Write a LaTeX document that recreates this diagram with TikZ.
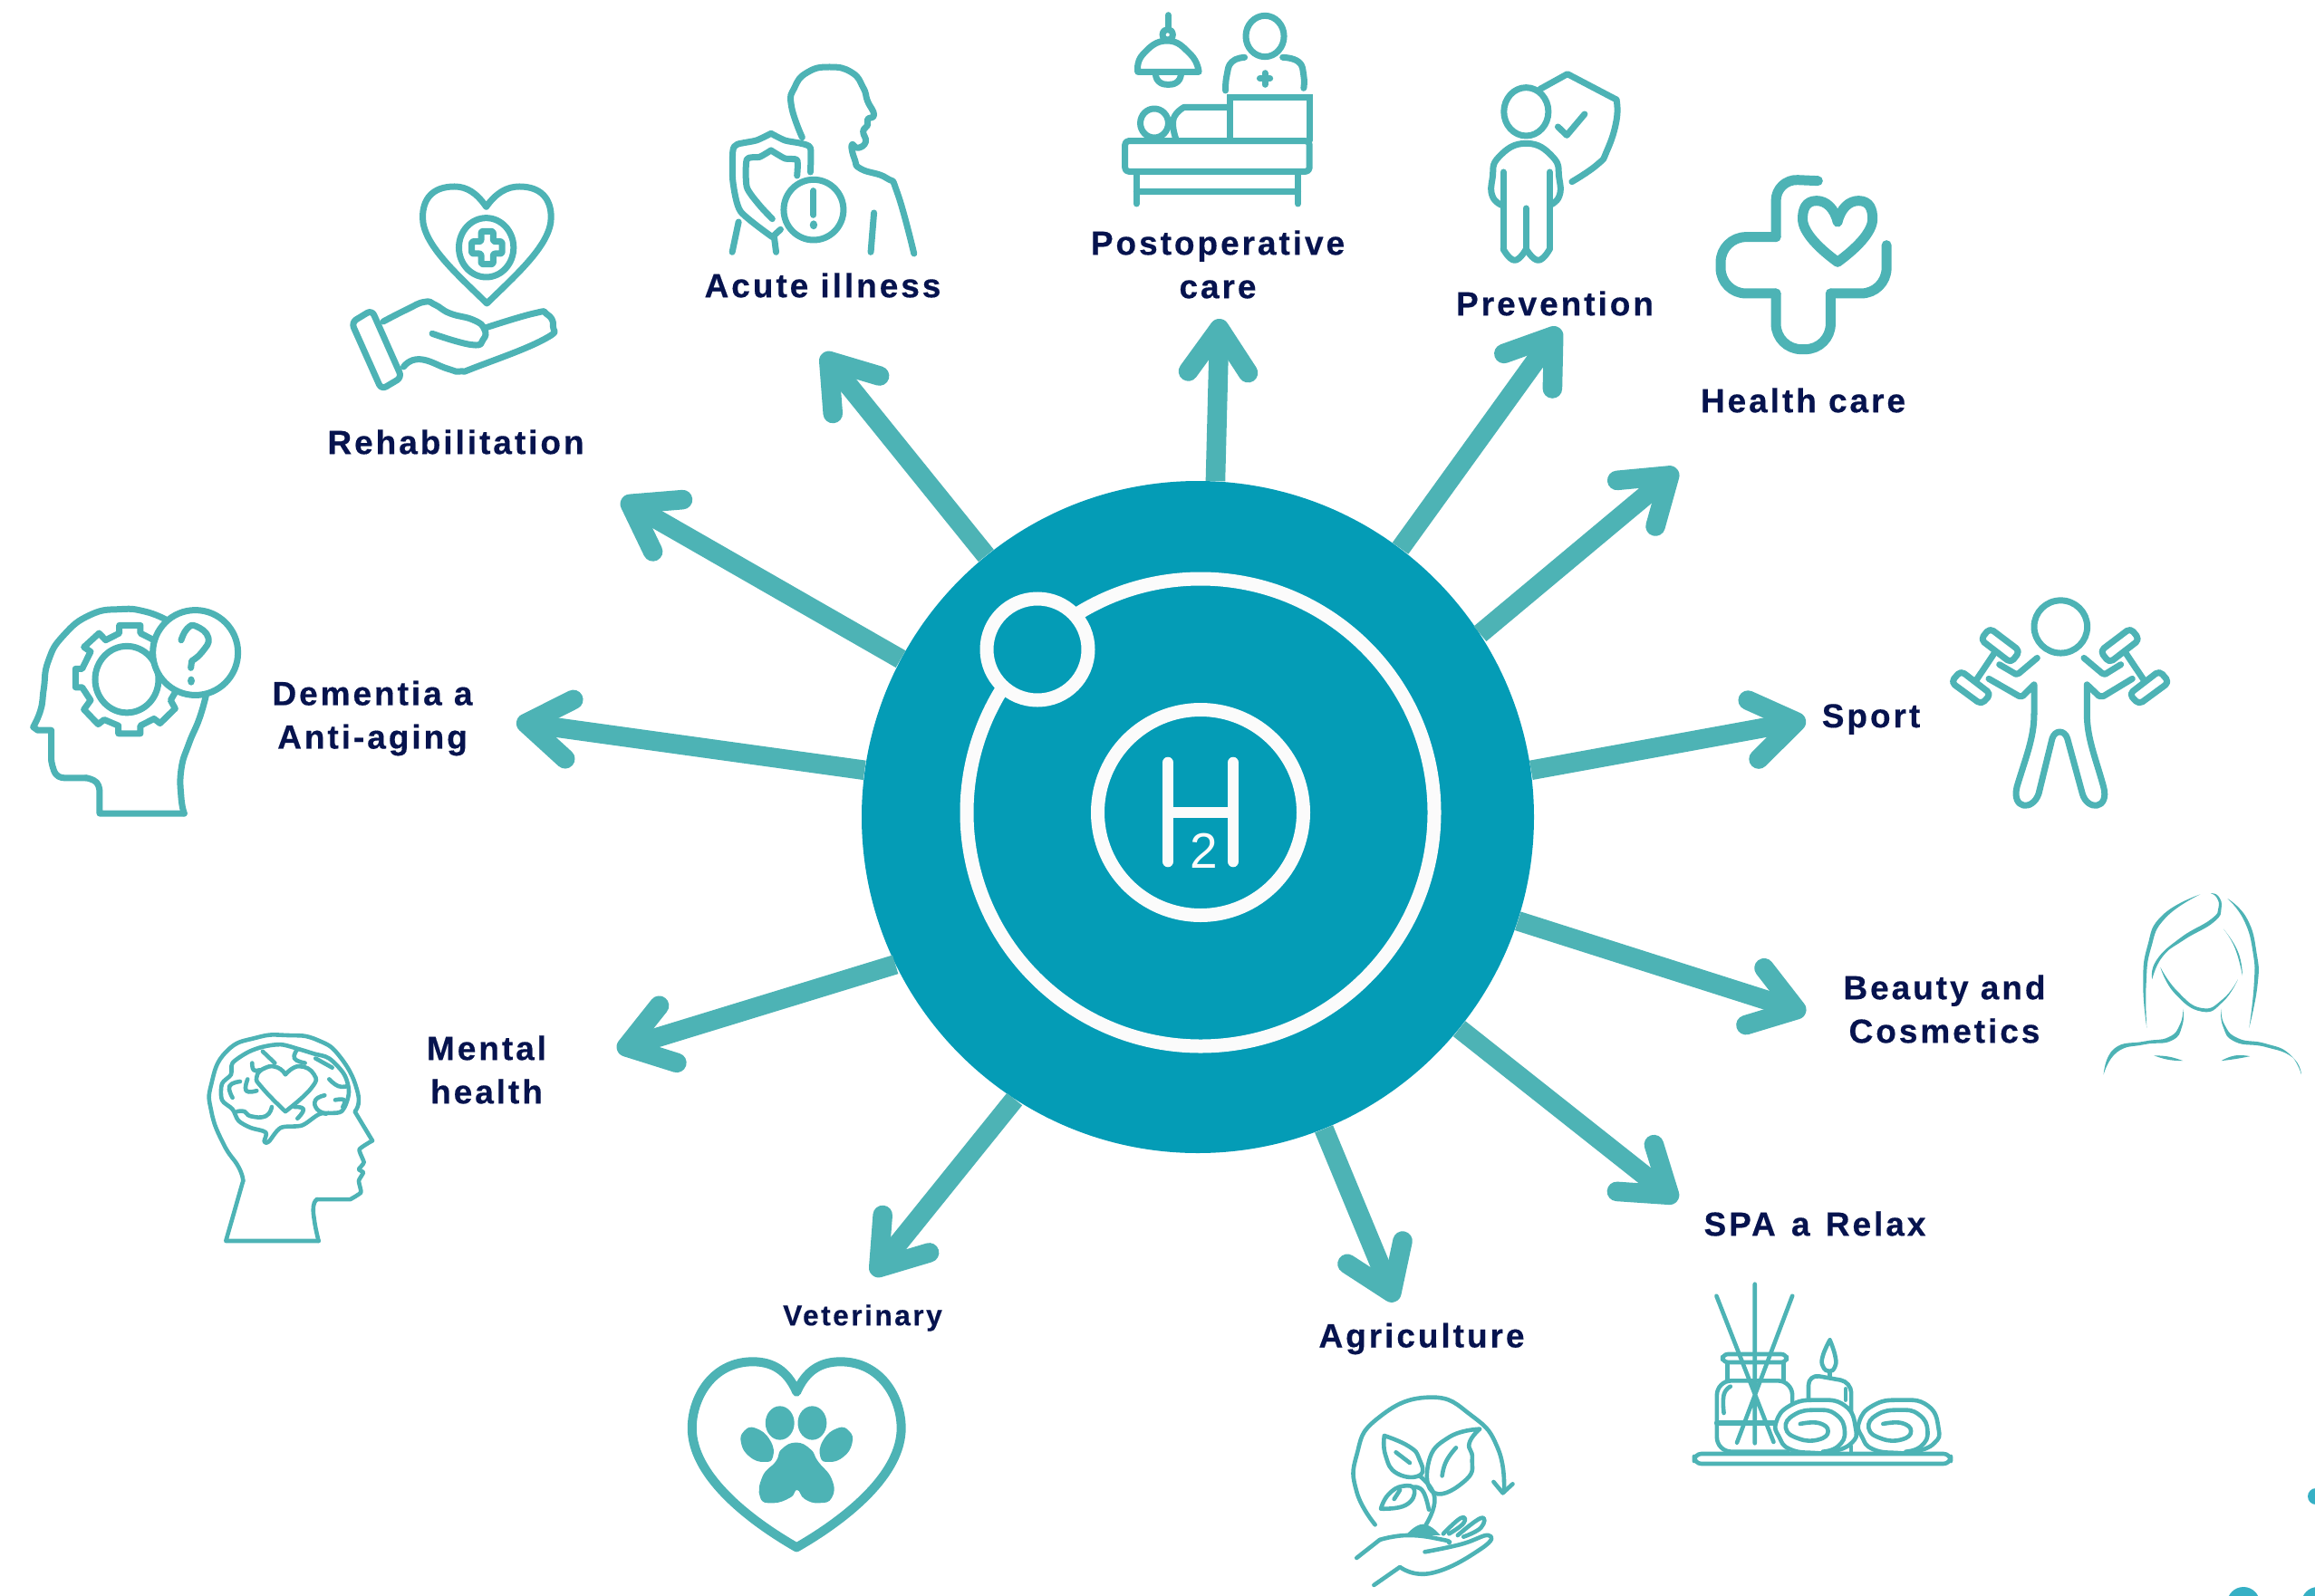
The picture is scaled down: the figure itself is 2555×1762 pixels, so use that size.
\documentclass[tikz,border=0pt]{standalone}
\usepackage{fontspec}
\usetikzlibrary{arrows.meta}
\newfontfamily\lab[LetterSpace=8,FakeBold=0.4]{Liberation Sans}
\newfontfamily\plainsans{Liberation Sans}
\definecolor{bar}{HTML}{4DB3B5}
\definecolor{hubc}{HTML}{049CB6}
\definecolor{ink}{HTML}{06134E}
\definecolor{ringc}{HTML}{FBFBFB}
\tikzset{
 ic/.style={draw=bar,line width=3.5pt,line cap=round,line join=round},
 icthin/.style={draw=bar,line width=2.3pt,line cap=round,line join=round},
 icthick/.style={draw=bar,line width=5.5pt,line cap=round,line join=round},
 sil/.style={fill=bar,draw=none},
 ring/.style={draw=ringc,line width=7.5pt},
 lbl/.style={text=ink,align=center,inner sep=0pt,font=\lab\bfseries\fontsize{18.5}{24}\selectfont},
 flow/.style={draw=bar,line width=10.8pt,-{Straight Barb[length=24pt,width=33pt,round]}},
 za/.style={xscale=0.7015,yscale=0.3333},
 zc/.style={shift={(0,620)},xscale=0.3333,yscale=0.5102},
 zd/.style={shift={(2100,620)},xscale=0.3333,yscale=0.3827},
 ze/.style={shift={(700,1400)},xscale=0.6378,yscale=0.3333},
 zf/.style={shift={(1800,1380)},xscale=0.4815,yscale=0.3333}
}
\begin{document}
\begin{tikzpicture}[x=0.5pt,y=-0.5pt,tension=.85]
\useasboundingbox (0,0) rectangle (2555,1762);
% hub
\node[circle,fill=hubc,inner sep=0pt,minimum size=371pt] (hub) at (1322,902) {};
\draw[ring] (1325,897) circle[radius=258];
\draw[ring] (1325,897) circle[radius=113.5];
\draw[ring,fill=hubc] (1145,717) circle[radius=56];
\draw[draw=ringc,line width=6.3pt,line cap=round] (1289,842)--(1289,951) (1361,842)--(1361,951);
\draw[draw=ringc,line width=6.3pt] (1289,897)--(1361,897);
\node[inner sep=0pt,text=ringc,font=\plainsans\fontsize{27.5}{27.5}\selectfont] (two) at (1329,939) {2};
% free arrow ends
\coordinate (t1) at (686,551);
\coordinate (t2) at (908,390);
\coordinate (t3) at (1346,352);
\coordinate (t4) at (1721,362);
\coordinate (t5) at (1851,518);
\coordinate (t6) at (1993,795);
\coordinate (t7) at (1993,1118);
\coordinate (t8) at (1851,1326);
\coordinate (t9) at (1540,1437);
\coordinate (t10) at (963,1408);
\coordinate (t11) at (681,1159);
\coordinate (t12) at (570,797);
\draw[flow] (hub.152) -- (t1);
\draw[flow] (hub.129.6) -- (t2);
\draw[flow] (hub.87.8) -- (t3);
\draw[flow] (hub.53.6) -- (t4);
\draw[flow] (hub.33.8) -- (t5);
\draw[flow] (hub.8.5) -- (t6);
\draw[flow] (hub.-18.2) -- (t7);
\draw[flow] (hub.-39.7) -- (t8);
\draw[flow] (hub.-68.7) -- (t9);
\draw[flow] (hub.-123.6) -- (t10);
\draw[flow] (hub.-154.6) -- (t11);
\draw[flow] (hub.172.7) -- (t12);
% labels
\node[lbl] (lrehab) at (503,488) {Rehabilitation};
\node[lbl] (lacute) at (908,315) {Acute illness};
\node[lbl] (lpost) at (1344,292) {Postoperative\\care};
\node[lbl] (lprev) at (1716,335) {Prevention};
\node[lbl] (lhealth) at (1990,442) {Health care};
\node[lbl] (lsport) at (2065,794) {Sport};
\node[lbl] (lbeauty) at (2146,1114) {Beauty and\\Cosmetics};
\node[lbl] (lspa) at (2003,1351) {SPA\hspace{2pt} a\hspace{2pt} Relax};
\node[lbl] (lagri) at (1569,1478) {Agriculture};
\node[lbl,font=\lab\bfseries\fontsize{15.8}{18}\selectfont] (lvet) at (952,1455) {Veterinary};
\node[lbl] (lmental) at (537,1181) {Mental\\health};
\node[lbl] (ldem) at (411,793) {Dementia a\\Anti-aging};
% Rehabilitation icon
\begin{scope}[za]
\draw[ic] (765,685) .. controls (750,640) and (735,618) .. (715,618) .. controls (680,618) and (665,660) .. (665,720) .. controls (665,810) and (720,910) .. (766,1005) .. controls (812,910) and (867,810) .. (867,720) .. controls (867,660) and (852,618) .. (817,618) .. controls (797,618) and (780,640) .. (765,685);
\draw[ic] (765,820) ellipse[x radius=43,y radius=98];
\draw[ic,rounded corners=1pt] (757,766)--(776,766)--(776,800)--(790,800)--(790,840)--(776,840)--(776,875)--(757,875)--(757,840)--(742,840)--(742,800)--(757,800)--cycle;
\draw[ic,rounded corners=3pt] (553,1068)--(585,1027)--(632,1250)--(600,1290)--cycle;
\draw[ic] plot[smooth] coordinates {(603,1065)(640,1025)(668,1000)(685,1010)(708,1038)(745,1060)(762,1090)(760,1125)(742,1142)(680,1105)};
\draw[ic] plot[smooth] coordinates {(765,1085)(840,1038)(860,1040)(870,1080)(855,1125)(750,1215)(725,1230)(705,1222)(660,1190)(635,1215)};
% Acute illness icon
\draw[ic] plot[smooth] coordinates {(1262,455)(1245,350)(1250,290)(1270,240)(1305,222)(1340,240)(1358,290)(1365,335)(1375,380)(1365,395)(1365,415)(1358,435)(1362,470)(1350,490)(1340,480)(1345,530)(1355,560)(1395,590)(1412,640)(1438,840)};
\draw[ic] (1375,705)--(1370,835) (1162,735)--(1152,835) (1218,785)--(1221,835);
\draw[ic] plot[smooth,tension=.4] coordinates {(1275,570)(1275,490)(1260,475)(1235,465)(1213,442)} -- plot[smooth,tension=.4] coordinates {(1213,442)(1190,465)(1160,478)(1153,500)(1153,600)(1165,700)(1215,785)} -- (1228,760);
\draw[ic] plot[smooth,tension=.4] coordinates {(1254,582)(1254,530)(1235,525)(1213,498)} -- plot[smooth,tension=.4] coordinates {(1213,498)(1195,520)(1175,528)(1175,620)(1195,680)(1215,725)};
\draw[ic] (1280,695) ellipse[x radius=47,y radius=100];
\draw[ic] (1280,632)--(1280,712);
\fill[sil] (1280,745) ellipse[x radius=6,y radius=15];
\end{scope}
% Postoperative icon, prevention icon, health care icon
\begin{scope}[shift={(1100,0)},za]
\draw[ic] (270,50)--(270,95);
\draw[ic] (269,115) ellipse[x radius=8,y radius=18];
\draw[ic] plot[smooth] coordinates {(222,238)(230,180)(268,135)(305,180)(318,238)} -- cycle;
\draw[ic] plot[smooth] coordinates {(250,245)(255,270)(270,280)(285,270)(290,245)};
\draw[ic] (422,120) ellipse[x radius=30,y radius=68];
\draw[ic] plot[smooth] coordinates {(360,300)(362,250)(370,205)(390,190)};
\draw[ic] plot[smooth] coordinates {(450,190)(475,205)(483,250)(483,292)};
\draw[ic] (422,242)--(422,280) (414,260)--(430,260);
\draw[ic,line join=miter] (367,460)--(367,322)--(492,322)--(492,465);
\draw[ic,rounded corners=2pt] (202,467)--(492,467)--(492,568)--(202,568)--cycle;
\draw[ic] (248,408) ellipse[x radius=22,y radius=48];
\draw[ic] plot[smooth] coordinates {(282,460)(278,395)(295,355)} -- (365,355);
\draw[ic] (220,575)--(220,675) (474,575)--(474,675);
\draw[ic] (220,635)--(474,635);
\draw[ic] (833,370) ellipse[x radius=35,y radius=80];
\draw[ic] plot[smooth] coordinates {(795,680)(780,650)(780,590)(790,520)(833,475)(875,520)(885,590)(885,650)(870,680)};
\draw[ic] (797,570)--(797,825);
\draw[ic] plot[smooth] coordinates {(797,825)(815,862)(833,825)};
\draw[ic] plot[smooth] coordinates {(833,825)(852,862)(870,825)};
\draw[ic] (833,690)--(833,825) (870,570)--(870,825);
\draw[ic] (855,295)--(898,245)--(975,330);
\draw[ic] plot[smooth] coordinates {(975,330)(975,400)(960,500)(945,545)(905,602)};
\draw[ic] (883,420)--(897,448)--(925,378);
\draw[icthick,rounded corners=12pt] (1292,599)--(1226,593)--(1226,785);
\draw[icthick,rounded corners=14pt] (1226,785)--(1139,785)--(1139,972)--(1226,972);
\draw[icthick,rounded corners=14pt] (1226,972)--(1226,1157)--(1312,1157)--(1312,972);
\draw[icthick,rounded corners=14pt] (1312,972)--(1400,972)--(1400,812);
\draw[icthick] (1323,735) .. controls (1318,690) and (1305,665) .. (1290,665) .. controls (1272,665) and (1268,695) .. (1268,725) .. controls (1268,770) and (1295,825) .. (1323,868) .. controls (1351,825) and (1378,770) .. (1378,725) .. controls (1378,695) and (1374,665) .. (1356,665) .. controls (1341,665) and (1328,690) .. (1323,735);
\end{scope}
% Dementia icon and mental health icon
\begin{scope}[zc]
\draw[ic] plot[smooth] coordinates {(548,125)(480,108)(400,103)(300,115)(210,160)(160,215)(145,275)(135,320)(110,358)} -- (125,365)--(170,365)--(170,430);
\draw[ic] plot[smooth] coordinates {(170,430)(185,460)(215,468)} -- (285,468);
\draw[ic] plot[smooth] coordinates {(285,468)(320,478)(330,500)} -- (330,545)--(610,545);
\draw[ic] plot[smooth] coordinates {(610,545)(600,510)(600,450)(625,395)(660,340)(682,290)};
\draw[ic] (395,155)--(395,138)--(465,138)--(465,155)--(510,170)--(540,150)--(590,185)--(565,205)--(590,232)--(610,232)--(610,272)--(590,272)--(565,300)--(580,318)--(530,350)--(510,340)--(465,355)--(465,372)--(392,372)--(392,355)--(345,342)--(325,352)--(278,320)--(300,300)--(272,272)--(250,272)--(250,232)--(272,232)--(300,195)--(278,185)--(328,155)--(350,170)--cycle;
\draw[ic] (420,255) ellipse[x radius=105,y radius=72];
\draw[ic,fill=white] (647,197) ellipse[x radius=141,y radius=92];
\draw[ic] plot[smooth] coordinates {(600,170)(620,145)(650,140)(690,165)(670,195)(635,215)} -- (632,230);
\fill[sil] (633,258) ellipse[x radius=12,y radius=10];
\draw[icthin] (1055,1470)--(748,1470)--(805,1340);
\draw[icthin] plot[smooth] coordinates {(805,1340)(790,1310)(740,1260)(700,1190)(700,1130)(750,1060)(850,1030)(950,1025)(1050,1035)(1130,1075)(1185,1150)(1175,1190)} -- (1233,1253);
\draw[icthin] plot[smooth,tension=.3] coordinates {(1233,1253)(1190,1272)(1205,1300)(1188,1315)(1203,1322)(1188,1340)(1195,1365)(1160,1380)} -- (1050,1380);
\draw[icthin] plot[smooth] coordinates {(1050,1380)(1038,1395)(1042,1430)(1055,1470)};
\draw[icthin] plot[smooth cycle,tension=.5] coordinates {(875,1255)(880,1235)(830,1225)(790,1210)(770,1185)(735,1165)(735,1130)(765,1110)(770,1085)(820,1062)(870,1050)(930,1045)(990,1055)(1040,1065)(1090,1075)(1140,1110)(1155,1150)(1130,1190)(1060,1195)(1000,1220)(930,1225)(890,1255)};
\draw[icthin] plot[smooth] coordinates {(945,1190)(870,1140)(850,1115)(880,1095)(920,1095)(945,1110)} -- plot[smooth] coordinates {(945,1110)(990,1092)(1040,1110)(1030,1140)(945,1190)};
\draw[icthin] (870,1060)--(910,1085);
\draw[icthin] plot[smooth] coordinates {(985,1055)(975,1075)(1010,1085)};
\draw[icthin] plot[smooth] coordinates {(795,1125)(760,1135)(770,1160)};
\draw[icthin] plot[smooth] coordinates {(820,1120)(815,1145)(850,1145)};
\draw[icthin] plot[smooth] coordinates {(835,1085)(840,1100)(860,1100)};
\draw[icthin] plot[smooth] coordinates {(785,1190)(810,1190)(830,1200)(880,1200)(900,1180)};
\draw[icthin] (1045,1075)--(1100,1095);
\draw[icthin] plot[smooth] coordinates {(1090,1120)(1120,1135)(1150,1135)};
\draw[icthin] plot[smooth] coordinates {(1075,1155)(1045,1165)(1050,1185)(1080,1195)};
\draw[icthin] plot[smooth] coordinates {(1110,1165)(1140,1165)(1135,1180)};
\draw[icthin] plot[smooth] coordinates {(975,1180)(1005,1185)(985,1205)};
\end{scope}
% Sport icon and beauty icon
\begin{scope}[zd]
\draw[ic] (523,188) ellipse[x radius=88,y radius=76];
\draw[ic] (445,278)--(385,322)--(375,325)--(320,297);
\draw[ic] (285,338)--(385,388)--(397,388)--(435,355)--(435,440);
\draw[ic] (435,440) .. controls (435,510) and (405,570) .. (378,650) .. controls (360,715) and (430,720) .. (450,670) -- (495,510) .. controls (505,485) and (535,485) .. (545,510) -- (595,670) .. controls (612,720) and (685,715) .. (665,650) .. controls (640,570) and (610,510) .. (610,440) -- (610,355)--(650,388)--(665,388)--(760,338);
\draw[ic] (600,278)--(660,322)--(670,325)--(722,297);
\draw[ic,rounded corners=2.5pt] (258,225)--(288,192)--(388,258)--(358,292)--cycle;
\draw[ic,rounded corners=2.5pt] (160,348)--(192,315)--(292,382)--(260,412)--cycle;
\draw[ic,rounded corners=2.5pt] (784,225)--(754,192)--(654,258)--(684,292)--cycle;
\draw[ic,rounded corners=2.5pt] (882,348)--(850,315)--(750,382)--(782,412)--cycle;
\draw[ic] (305,262)--(245,340) (737,262)--(797,340);
\fill[sil] plot[smooth] coordinates {(808,1345)(796,1220)(810,1110)(860,1020)(985,960)} -- plot[smooth] coordinates {(985,960)(870,1028)(822,1115)(806,1220)(808,1345)};
\fill[sil] plot[smooth] coordinates {(1075,972)(1140,1030)(1172,1130)(1175,1220)(1147,1345)} -- plot[smooth] coordinates {(1147,1345)(1163,1220)(1160,1130)(1130,1035)(1075,972)};
\fill[sil] plot[smooth] coordinates {(1020,957)(1045,965)(1055,1000)(1030,1040)(930,1092)(860,1140)(826,1205)} -- plot[smooth] coordinates {(826,1205)(840,1150)(920,1085)(1020,1032)(1045,1000)(1040,970)(1020,957)};
\fill[sil] plot[smooth] coordinates {(1062,1060)(1100,1115)(1125,1195)} -- plot[smooth] coordinates {(1125,1195)(1110,1125)(1062,1060)};
\fill[sil] plot[smooth] coordinates {(853,1170)(900,1245)(990,1298)(1060,1270)(1110,1205)} -- plot[smooth] coordinates {(1110,1205)(1060,1262)(990,1288)(910,1240)(853,1170)};
\fill[sil] plot[smooth] coordinates {(928,1290)(925,1340)(890,1382)(800,1393)(710,1415)(665,1480)} -- plot[smooth] coordinates {(665,1480)(700,1405)(800,1384)(880,1372)(918,1335)(928,1290)};
\fill[sil] plot[smooth] coordinates {(1055,1290)(1060,1340)(1100,1385)(1200,1400)(1290,1430)(1320,1480)} -- plot[smooth] coordinates {(1320,1480)(1280,1420)(1200,1390)(1110,1375)(1065,1335)(1055,1290)};
\fill[sil] plot[smooth] coordinates {(832,1425)(880,1428)(928,1440)} -- plot[smooth] coordinates {(928,1440)(880,1437)(832,1425)};
\fill[sil] plot[smooth] coordinates {(1055,1440)(1100,1425)(1150,1427)} -- plot[smooth] coordinates {(1150,1427)(1100,1435)(1055,1440)};
\end{scope}
% Veterinary icon and agriculture icon
\begin{scope}[ze]
\draw[draw=bar,line width=5pt,line join=round,line cap=round] (281,410) .. controls (265,340) and (240,310) .. (205,310) .. controls (135,310) and (100,430) .. (100,530) .. controls (100,680) and (190,825) .. (281,925) .. controls (372,825) and (462,680) .. (462,530) .. controls (462,430) and (427,310) .. (357,310) .. controls (322,310) and (297,340) .. (281,410);
\fill[sil] (252,513) ellipse[x radius=25,y radius=56];
\fill[sil] (308,513) ellipse[x radius=25,y radius=56];
\fill[sil] plot[smooth cycle] coordinates {(190,540)(210,530)(235,570)(240,625)(225,642)(200,625)(185,580)};
\fill[sil] plot[smooth cycle] coordinates {(372,540)(352,530)(327,570)(322,625)(337,642)(362,625)(377,580)};
\fill[sil] plot[smooth cycle] coordinates {(280,578)(305,600)(318,640)(342,700)(342,760)(320,778)(295,765)(282,735)(270,760)(240,778)(218,760)(222,690)(245,640)(255,600)};
\draw[icthin] plot[smooth] coordinates {(1282,850)(1250,740)(1250,620)(1285,500)(1375,428)(1450,490)(1495,600)(1505,740)};
\draw[icthin] (1487,708)--(1503,745)--(1520,715);
\draw[icthin] plot[smooth] coordinates {(1298,555)(1300,620)(1320,680)(1360,685)(1358,630)(1340,590)(1298,555)};
\draw[icthin] plot[smooth] coordinates {(1463,533)(1410,560)(1375,640)(1385,745)(1440,700)(1450,630)(1445,580)(1463,533)};
\draw[icthin] plot[smooth] coordinates {(1292,797)(1305,750)(1330,722)(1350,735)(1335,785)(1292,797)};
\draw[icthin] plot[smooth] coordinates {(1370,850)(1385,760)(1360,690)};
\draw[icthin] plot[smooth] coordinates {(1350,725)(1365,740)(1375,800)};
\draw[icthin] (1318,610)--(1342,645) (1325,735)--(1315,765);
\draw[icthin] plot[smooth] coordinates {(1422,595)(1405,640)(1398,688)};
\fill[sil] plot[smooth] coordinates {(1335,885)(1365,848)(1395,885)} -- cycle;
\draw[icthin] (1250,960)--(1290,900);
\draw[icthin] plot[smooth] coordinates {(1290,900)(1340,885)(1400,900)(1410,910)};
\draw[icthin] plot[smooth] coordinates {(1368,940)(1430,915)(1478,885)(1465,930)(1380,1010)(1325,990)} -- (1280,1050);
\draw[icthin] plot[smooth] coordinates {(1400,880)(1430,828)(1435,845)(1410,880)};
\draw[icthin] plot[smooth] coordinates {(1425,885)(1465,828)(1465,860)(1435,890)};
\end{scope}
% SPA icon
\begin{scope}[zf]
\draw[icthin,rounded corners=4pt] (145,675) rectangle (733,708);
\draw[icthin,rounded corners=3pt] (210,345) rectangle (357,372);
\draw[icthin] (221,372)--(221,433) (350,372)--(350,433);
\draw[icthin,rounded corners=8pt] (370,505)--(370,433)--(197,433)--(197,668)--(360,668);
\draw[icthin,line width=3pt] (197,574)--(332,574);
\draw[icthin] plot[smooth] coordinates {(228,452)(213,480)(213,540)};
\draw[icthin] (284,113)--(284,640) (196,152)--(327,636) (370,152)--(243,638);
\draw[icthin] plot[smooth] coordinates {(456,298)(468,350)(468,385)(455,402)(440,385)(440,350)(456,298)};
\draw[icthin] (456,402)--(456,420);
\draw[icthin,rounded corners=6pt] (407,495)--(407,412)--(505,437)--(505,535);
\draw[icthin] (505,650)--(505,672) (492,460)--(492,497);
\foreach \dx in {0,190}{
\begin{scope}[shift={(\dx,0)}]
\draw[icthin,fill=white] plot[smooth cycle] coordinates {(425,497)(490,515)(515,590)(505,640)(460,668)(420,672)(365,660)(340,620)(333,570)(365,515)};
\draw[icthin] plot[smooth] coordinates {(388,576)(430,573)(452,600)(430,628)(385,625)(355,590)(375,545)(425,530)(470,545)(490,600)(475,650)(440,668)};
\end{scope}}
\end{scope}
% stray marks at the lower right edge
\fill[hubc!80!white] (2476,1770) circle[radius=18];
\fill[hubc!80!white] (2556,1652) circle[radius=9];
\fill[hubc!80!white] (2558,1770) circle[radius=18];
\end{tikzpicture}
\end{document}
